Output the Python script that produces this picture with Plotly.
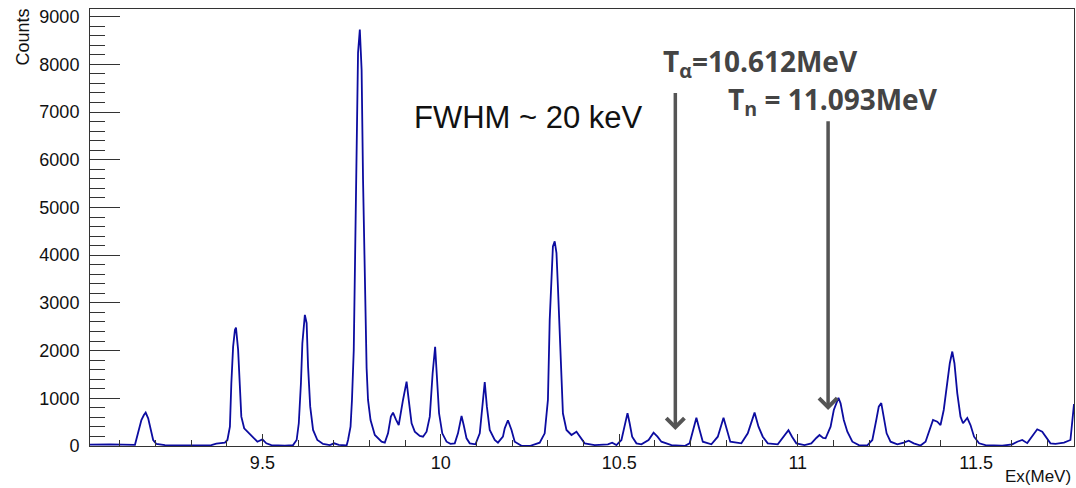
import plotly.graph_objects as go

# Spectrum (Ex in MeV, counts)
energy_mev = [
    9.017, 9.073, 9.143, 9.152, 9.161, 9.168, 9.173, 9.180, 9.187, 9.194,
    9.203, 9.227, 9.301, 9.357, 9.371, 9.385, 9.395, 9.402, 9.409, 9.413,
    9.418, 9.423, 9.426, 9.432, 9.437, 9.441, 9.449, 9.460, 9.474, 9.486,
    9.500, 9.511, 9.525, 9.563, 9.586, 9.596, 9.602, 9.608, 9.612, 9.619,
    9.624, 9.628, 9.634, 9.642, 9.654, 9.670, 9.689, 9.701, 9.714, 9.736,
    9.740, 9.747, 9.751, 9.756, 9.759, 9.764, 9.768, 9.773, 9.778, 9.782,
    9.787, 9.792, 9.796, 9.803, 9.815, 9.834, 9.843, 9.852, 9.860, 9.866,
    9.874, 9.882, 9.894, 9.904, 9.910, 9.918, 9.927, 9.941, 9.950, 9.960,
    9.969, 9.977, 9.984, 9.989, 9.995, 10.004, 10.016, 10.027, 10.039, 10.048,
    10.058, 10.064, 10.072, 10.081, 10.097, 10.109, 10.117, 10.123, 10.129, 10.137,
    10.151, 10.160, 10.174, 10.179, 10.188, 10.198, 10.207, 10.226, 10.249, 10.277,
    10.291, 10.300, 10.305, 10.310, 10.314, 10.319, 10.324, 10.328, 10.333, 10.338,
    10.342, 10.352, 10.366, 10.380, 10.389, 10.403, 10.431, 10.468, 10.480, 10.492,
    10.506, 10.515, 10.523, 10.529, 10.536, 10.548, 10.562, 10.582, 10.596, 10.607,
    10.618, 10.646, 10.683, 10.697, 10.706, 10.716, 10.725, 10.734, 10.758, 10.776,
    10.792, 10.802, 10.811, 10.842, 10.860, 10.879, 10.890, 10.902, 10.916, 10.944,
    10.963, 10.974, 10.984, 10.996, 11.019, 11.038, 11.052, 11.061, 11.071, 11.078,
    11.092, 11.101, 11.114, 11.120, 11.129, 11.139, 11.153, 11.171, 11.195, 11.209,
    11.220, 11.227, 11.234, 11.241, 11.249, 11.260, 11.279, 11.297, 11.311, 11.325,
    11.344, 11.358, 11.369, 11.379, 11.391, 11.400, 11.409, 11.419, 11.426, 11.433,
    11.439, 11.447, 11.456, 11.463, 11.475, 11.484, 11.494, 11.508, 11.526, 11.573,
    11.601, 11.615, 11.629, 11.643, 11.657, 11.671, 11.685, 11.696, 11.708, 11.722,
    11.746, 11.764, 11.774,
]
counts = [
    30, 35, 25, 266, 545, 650, 700, 580, 336, 126,
    42, 20, 10, 20, 50, 55, 70, 126, 405, 1315,
    2083, 2433, 2480, 2014, 1105, 615, 371, 280, 182, 90,
    140, 56, 20, 5, 20, 126, 476, 1315, 2154, 2748,
    2574, 1664, 825, 336, 126, 42, 20, 56, 25, 10,
    126, 405, 965, 2014, 3629, 6629, 8244, 8730, 7888, 5580,
    3552, 1630, 965, 545, 231, 90, 70, 266, 615, 700,
    560, 440, 965, 1350, 965, 476, 300, 210, 195, 300,
    615, 1525, 2080, 1315, 686, 266, 90, 44, 56, 266,
    630, 440, 161, 56, 35, 266, 965, 1340, 825, 336,
    126, 70, 195, 371, 540, 336, 90, 5, 0, 70,
    266, 965, 2643, 3692, 4181, 4290, 4042, 3342, 2293, 1385,
    686, 336, 231, 300, 195, 56, 20, 35, 70, 20,
    126, 405, 690, 476, 195, 56, 35, 126, 280, 195,
    90, 20, 0, 56, 336, 590, 336, 90, 35, 195,
    590, 336, 90, 56, 266, 700, 405, 195, 56, 35,
    231, 330, 195, 56, 20, 56, 168, 231, 170, 161,
    405, 755, 1010, 895, 545, 300, 90, 20, 15, 126,
    545, 825, 900, 615, 266, 90, 35, 70, 111, 56,
    10, 90, 336, 545, 510, 440, 755, 1315, 1735, 1980,
    1735, 1105, 615, 476, 590, 440, 195, 56, 20, 5,
    35, 90, 126, 60, 195, 350, 300, 195, 56, 45,
    70, 126, 880,
]

x_range = [9.017, 11.774]
y_range = [0, 9160]
x_tick_vals = [9.5, 10, 10.5, 11, 11.5]
x_tick_text = ["9.5", "10", "10.5", "11", "11.5"]
y_tick_vals = [0, 1000, 2000, 3000, 4000, 5000, 6000, 7000, 8000, 9000]
y_tick_text = [str(v) for v in y_tick_vals]

# Threshold markers (arrow x position, arrow tip, arrow tail in counts)
alpha_arrow = {"x": 10.657, "tip": 336, "tail": 7430}
n_arrow = {"x": 11.085, "tip": 755, "tail": 6840}

fig = go.Figure()
fig.add_trace(go.Scatter(
    x=energy_mev, y=counts, mode="lines",
    line=dict(color="#0c0ca0", width=1.8),
    hoverinfo="x+y",
))

label_font = dict(family="Arial, Liberation Sans, sans-serif", size=18, color="#111111")
bold_font = dict(family="Open Sans, Lato, sans-serif", size=28, color="#444444",
                 weight="bold")
arrow_color = "#555555"

fig.update_layout(
    width=1076, height=488,
    margin=dict(l=90, r=2, t=9, b=42, autoexpand=False),
    paper_bgcolor="white", plot_bgcolor="white",
    showlegend=False,
    xaxis=dict(
        range=x_range, showgrid=False, zeroline=False, automargin=False,
        showline=True, linecolor="#333333", linewidth=1, mirror=True,
        ticks="inside", ticklen=12, tickcolor="#333333", tickwidth=1,
        tickvals=x_tick_vals, ticktext=x_tick_text, tickfont=label_font,
        minor=dict(ticks="inside", ticklen=6, dtick=0.1, tick0=9.0,
                   tickcolor="#333333", tickwidth=1, showgrid=False),
    ),
    yaxis=dict(
        range=y_range, showgrid=False, zeroline=False, automargin=False,
        showline=True, linecolor="#333333", linewidth=1, mirror=True,
        ticks="inside", ticklen=30, tickcolor="#333333", tickwidth=1,
        tickvals=y_tick_vals, ticktext=y_tick_text, tickfont=label_font,
        ticklabelstandoff=6,
        minor=dict(ticks="inside", ticklen=15, dtick=200, tick0=0,
                   tickcolor="#333333", tickwidth=1, showgrid=False),
    ),
)

annotations = [
    dict(text="Counts", xref="paper", yref="paper", x=0, y=1,
         xanchor="center", yanchor="top", xshift=-68, yshift=2,
         textangle=-90, showarrow=False, font=label_font),
    dict(text="Ex(MeV)", xref="paper", yref="paper", x=1, y=0,
         xanchor="right", yanchor="top", yshift=-19, xshift=-1,
         showarrow=False, font=dict(family="Arial, Liberation Sans, sans-serif",
                                    size=17, color="#111111")),
    dict(text="FWHM ~ 20 keV", xref="x", yref="y", x=10.246, y=6881,
         xanchor="center", yanchor="middle", showarrow=False,
         font=dict(family="Arial, Liberation Sans, sans-serif", size=31, color="#111111")),
    dict(text="<b>T<sub>α</sub>=10.612MeV</b>", xref="x", yref="y", x=10.617, y=8030,
         xanchor="left", yanchor="middle", showarrow=False, font=bold_font),
    dict(text="<b>T<sub>n</sub> = 11.093MeV</b>", xref="x", yref="y", x=10.800, y=7230,
         xanchor="left", yanchor="middle", showarrow=False, font=bold_font),
    dict(text="", xref="x", yref="y", x=alpha_arrow["x"], y=alpha_arrow["tip"],
         axref="x", ayref="y", ax=alpha_arrow["x"], ay=alpha_arrow["tail"],
         showarrow=True, arrowhead=4, arrowsize=1.0, arrowwidth=3.5,
         arrowcolor=arrow_color, standoff=0),
    dict(text="", xref="x", yref="y", x=n_arrow["x"], y=n_arrow["tip"],
         axref="x", ayref="y", ax=n_arrow["x"], ay=n_arrow["tail"],
         showarrow=True, arrowhead=4, arrowsize=1.0, arrowwidth=3.5,
         arrowcolor=arrow_color, standoff=0),
]
fig.update_layout(annotations=annotations)

fig.write_html(
    "out.html",
    config={"displayModeBar": False},
    post_script="document.body.style.margin='0';document.body.style.overflow='hidden';",
)
